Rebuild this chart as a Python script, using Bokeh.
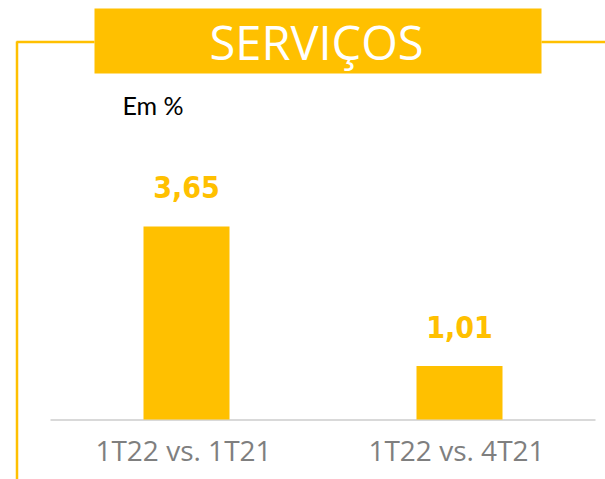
from bokeh.plotting import figure
from bokeh.models import Range1d, ColumnDataSource
from bokeh.core.properties import value
from bokeh.embed import file_html
from bokeh.resources import INLINE

# ---- data ----
categories = ["1T22 vs. 1T21", "1T22 vs. 4T21"]
values = [3.65, 1.01]
value_labels = ["3,65", "1,01"]
title_text = "SERVIÇOS"
unit_text = "Em %"

YELLOW = "#FFC000"
W, H = 605, 479

xs = list(range(len(categories)))
src = ColumnDataSource(dict(x=xs, top=values, cat=categories, lab=value_labels))

# data ranges: bar centres at page x 186 / 459, baseline at page y 419
px_per_x = 273.0
x0_fig = 186.0
px_per_y = 52.9
base_from_bottom = 60.0

p = figure(width=W, height=H, output_backend="svg", toolbar_location=None,
           x_range=Range1d(-x0_fig / px_per_x, (W - x0_fig) / px_per_x),
           y_range=Range1d(-base_from_bottom / px_per_y, (H - base_from_bottom) / px_per_y),
           min_border=0, outline_line_color=None)
p.axis.visible = False
p.grid.visible = False
p.background_fill_color = "white"

# page-pixel ranges for decorations (y downwards)
p.extra_x_ranges["px"] = Range1d(0, W)
p.extra_y_ranges["px"] = Range1d(H, 0)

# frame decorations
p.segment(x0=[16, 541], y0=[41.5, 41.5], x1=[94, 605], y1=[41.5, 41.5],
          line_color=YELLOW, line_width=2.5, x_range_name="px", y_range_name="px")
p.segment(x0=[16.5], y0=[41], x1=[16.5], y1=[480],
          line_color=YELLOW, line_width=2.5, x_range_name="px", y_range_name="px")
p.quad(left=[94], right=[541], top=[8], bottom=[73], fill_color=YELLOW, line_color=None,
       x_range_name="px", y_range_name="px")
p.text(x=[316], y=[41], text=[title_text], text_color="white",
       text_font=value("Open Sans"), text_font_size="47px",
       text_align="center", text_baseline="middle",
       x_range_name="px", y_range_name="px")
p.text(x=[122], y=[104], text=[unit_text], text_color="black",
       text_font=value("Lato"), text_font_size="25px",
       text_align="left", text_baseline="middle",
       x_range_name="px", y_range_name="px")

# baseline
p.segment(x0=[50], y0=[419.5], x1=[595], y1=[419.5], line_color="#D9D9D9", line_width=2,
          x_range_name="px", y_range_name="px")

# bars
p.vbar(x="x", top="top", bottom=0, width=86 / px_per_x, source=src,
       fill_color=YELLOW, line_color=None)

# value labels
p.text(x="x", y="top", text="lab", source=src, text_color=YELLOW,
       text_font=value("'DejaVu Sans Condensed', 'Roboto Condensed', Roboto, sans-serif"),
       text_font_style="bold",
       text_font_size="30px", text_align="center", text_baseline="middle",
       y_offset=-39)

# category labels
p.text(x="x", y=0, text="cat", source=src, text_color="#7F7F7F",
       text_font=value("Open Sans"), text_font_size="28px",
       text_align="center", text_baseline="middle", y_offset=30, x_offset=-3)

open("out.html", "w").write(file_html(p, INLINE))
